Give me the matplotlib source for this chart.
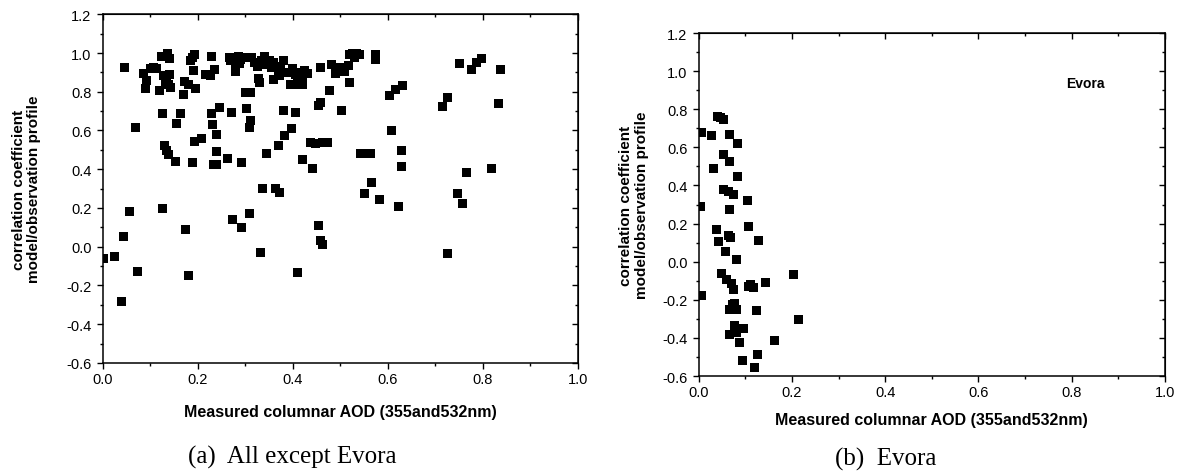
import matplotlib
matplotlib.use("Agg")
import matplotlib.pyplot as plt
from matplotlib.ticker import MultipleLocator

plt.rcParams["font.family"] = ["Liberation Sans", "DejaVu Sans"]

# Stations other than Evora: measured AOD vs. correlation coefficient
others_aod = [
    0.001, 0.024, 0.043, 0.040, 0.057, 0.074, 0.125, 0.175, 0.180, 0.273,
    0.293, 0.309, 0.333, 0.336, 0.364, 0.372, 0.409, 0.455, 0.459, 0.463,
    0.726, 0.565, 0.551, 0.582, 0.622, 0.747, 0.757, 0.765, 0.819,
    0.070, 0.125, 0.131, 0.135, 0.138, 0.154, 0.156, 0.164, 0.170, 0.189,
    0.194, 0.208, 0.229, 0.232, 0.233, 0.240, 0.240, 0.239, 0.245, 0.262,
    0.272, 0.293, 0.302, 0.310, 0.308, 0.345, 0.370, 0.380, 0.382, 0.398,
    0.406, 0.421, 0.442, 0.437, 0.447, 0.462, 0.472, 0.454, 0.458, 0.478,
    0.502, 0.542, 0.551, 0.563, 0.603, 0.617, 0.631, 0.608, 0.629, 0.629,
    0.716, 0.726, 0.833,
    0.047, 0.086, 0.091, 0.093, 0.100, 0.107, 0.114, 0.119, 0.124, 0.128,
    0.136, 0.140, 0.133, 0.135, 0.140, 0.142, 0.138, 0.173, 0.180, 0.196,
    0.185, 0.190, 0.193, 0.191, 0.217, 0.226, 0.236, 0.229, 0.266, 0.270,
    0.279, 0.280, 0.285, 0.290, 0.295, 0.288, 0.300, 0.310, 0.314, 0.320,
    0.325, 0.328, 0.330, 0.335, 0.340, 0.345, 0.350, 0.355, 0.360, 0.365,
    0.359, 0.370, 0.373, 0.375, 0.380, 0.390, 0.396, 0.400, 0.405, 0.410,
    0.415, 0.420, 0.425, 0.410, 0.420, 0.430, 0.459, 0.482, 0.489, 0.498,
    0.509, 0.517, 0.519, 0.520, 0.525, 0.530, 0.535, 0.540, 0.573, 0.575,
    0.751, 0.777, 0.786, 0.796, 0.838,
]
others_corr = [
    -0.060, -0.051, 0.054, -0.281, 0.181, -0.127, 0.198, 0.088, -0.149, 0.140,
    0.100, 0.174, -0.029, 0.302, 0.302, 0.278, -0.131, 0.108, 0.032, 0.013,
    -0.037, 0.329, 0.276, 0.243, 0.209, 0.277, 0.221, 0.381, 0.402,
    0.613, 0.689, 0.522, 0.496, 0.475, 0.439, 0.634, 0.686, 0.784, 0.436,
    0.542, 0.560, 0.686, 0.629, 0.427, 0.579, 0.491, 0.422, 0.717, 0.453,
    0.694, 0.433, 0.711, 0.651, 0.617, 0.479, 0.522, 0.703, 0.573, 0.608,
    0.694, 0.448, 0.402, 0.537, 0.535, 0.540, 0.540, 0.728, 0.742, 0.806,
    0.703, 0.479, 0.483, 0.479, 0.780, 0.811, 0.832, 0.599, 0.496, 0.413,
    0.723, 0.771, 0.737,
    0.923, 0.892, 0.815, 0.857, 0.918, 0.925, 0.920, 0.806, 0.983, 0.883,
    0.999, 0.973, 0.850, 0.870, 0.890, 0.823, 0.835, 0.852, 0.835, 0.815,
    0.960, 0.975, 0.990, 0.909, 0.887, 0.883, 0.914, 0.983, 0.975, 0.960,
    0.904, 0.950, 0.980, 0.965, 0.975, 0.945, 0.794, 0.794, 0.978, 0.950,
    0.930, 0.870, 0.849, 0.960, 0.980, 0.940, 0.960, 0.925, 0.950, 0.930,
    0.863, 0.883, 0.882, 0.920, 0.960, 0.900, 0.840, 0.920, 0.890, 0.870,
    0.900, 0.880, 0.910, 0.840, 0.840, 0.895, 0.927, 0.940, 0.892, 0.927,
    0.904, 0.935, 0.849, 0.990, 1.000, 0.975, 1.000, 0.990, 0.990, 0.965,
    0.944, 0.914, 0.952, 0.973, 0.914,
]

# Evora station
evora_aod = [
    0.006, 0.028, 0.040, 0.047, 0.053, 0.067, 0.084, 0.053, 0.066, 0.031,
    0.084, 0.054, 0.064, 0.074, 0.003, 0.066, 0.104, 0.039, 0.106, 0.043,
    0.064, 0.069, 0.128, 0.058, 0.081, 0.048, 0.060, 0.070, 0.075, 0.106,
    0.111, 0.117, 0.144, 0.203, 0.006, 0.067, 0.072, 0.077, 0.081, 0.074,
    0.124, 0.215, 0.076, 0.096, 0.067, 0.081, 0.087, 0.162, 0.126, 0.094,
    0.119,
]
evora_corr = [
    0.679, 0.664, 0.763, 0.758, 0.748, 0.668, 0.621, 0.565, 0.526, 0.490,
    0.448, 0.381, 0.368, 0.355, 0.288, 0.276, 0.320, 0.168, 0.184, 0.105,
    0.136, 0.128, 0.110, 0.054, 0.010, -0.061, -0.091, -0.114, -0.147, -0.130,
    -0.120, -0.133, -0.108, -0.065, -0.175, -0.250, -0.225, -0.222, -0.250, -0.245,
    -0.257, -0.301, -0.336, -0.350, -0.380, -0.374, -0.423, -0.415, -0.485, -0.516,
    -0.554,
]

x_label = "Measured columnar AOD (355and532nm)"
y_label = "correlation coefficient\nmodel/observation profile"
captions = ["(a)  All except Evora", "(b)  Evora"]

fig = plt.figure(figsize=(11.8, 4.77), dpi=100)
ax_a = fig.add_axes([0.0870, 0.237, 0.4028, 0.731])
ax_b = fig.add_axes([0.5921, 0.2096, 0.3952, 0.7191])


def style_axes(ax, xlab_y, ylab_x):
    ax.set_xlim(0.0, 1.0)
    ax.set_ylim(-0.6, 1.2)
    ax.xaxis.set_major_locator(MultipleLocator(0.2))
    ax.xaxis.set_minor_locator(MultipleLocator(0.1))
    ax.yaxis.set_major_locator(MultipleLocator(0.2))
    ax.yaxis.set_minor_locator(MultipleLocator(0.1))
    ax.xaxis.set_major_formatter(plt.FormatStrFormatter("%.1f"))
    ax.yaxis.set_major_formatter(plt.FormatStrFormatter("%.1f"))
    for s in ax.spines.values():
        s.set_linewidth(1.1)
    ax.tick_params(which="both", direction="out", top=False, right=False,
                   labelsize=10.5, width=1.0)
    ax.tick_params(axis="x", pad=2.5)
    ax.tick_params(axis="y", pad=4)
    ax.tick_params(which="major", length=4)
    ax.tick_params(which="minor", length=2.5)
    # mirrored inward ticks on top and right
    sec_x = ax.secondary_xaxis("top")
    sec_x.xaxis.set_major_locator(MultipleLocator(0.2))
    sec_x.xaxis.set_minor_locator(MultipleLocator(0.1))
    sec_x.tick_params(which="both", direction="in", labeltop=False, width=1.0)
    sec_x.tick_params(which="major", length=4)
    sec_x.tick_params(which="minor", length=2.5)
    sec_y = ax.secondary_yaxis("right")
    sec_y.yaxis.set_major_locator(MultipleLocator(0.2))
    sec_y.yaxis.set_minor_locator(MultipleLocator(0.1))
    sec_y.tick_params(which="both", direction="in", labelright=False, width=1.0)
    sec_y.tick_params(which="major", length=4)
    sec_y.tick_params(which="minor", length=2.5)
    ax.set_xlabel(x_label, fontsize=11.5, fontweight="bold", va="center")
    ax.xaxis.set_label_coords(0.5, xlab_y)
    ax.set_ylabel(y_label, fontsize=11, fontweight="bold", va="center",
                  linespacing=1.15)
    ax.yaxis.set_label_coords(ylab_x, 0.5)


style_axes(ax_a, -0.1405, -0.160)
style_axes(ax_b, -0.128, -0.138)

ax_a.scatter(others_aod, others_corr, marker="s", s=42, c="black",
             edgecolors="none", zorder=3)
ax_b.scatter(evora_aod, evora_corr, marker="s", s=42, c="black",
             edgecolors="none", zorder=3)

ax_b.text(0.83, 0.94, "Evora", fontsize=10, fontweight="bold",
          ha="center", va="center")

fig.text(292 / 1180, 1 - 457 / 477, captions[0], fontsize=18,
         family="Liberation Serif", ha="center", va="center")
fig.text(886 / 1180, 1 - 459 / 477, captions[1], fontsize=18,
         family="Liberation Serif", ha="center", va="center")

fig.savefig("out.png", dpi=100)
